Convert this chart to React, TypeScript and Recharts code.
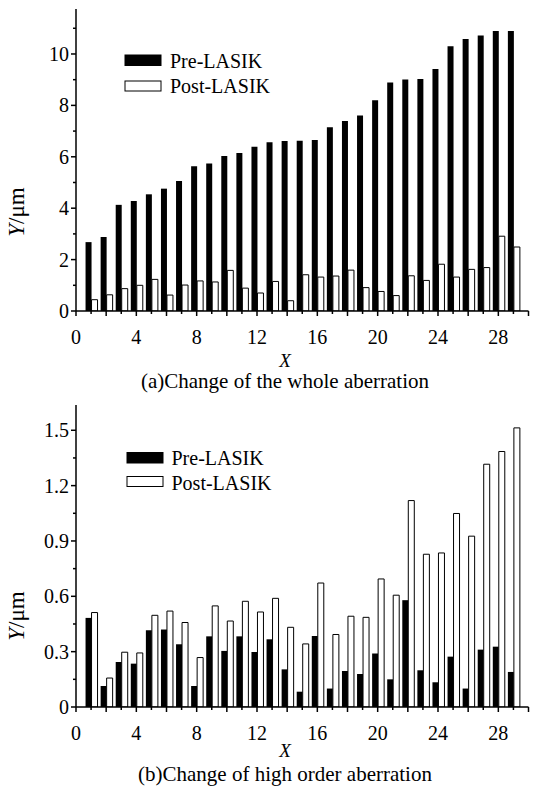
import React from 'react';
import { BarChart, Bar, XAxis, YAxis } from 'recharts';

const xValues = [1, 2, 3, 4, 5, 6, 7, 8, 9, 10, 11, 12, 13, 14, 15, 16, 17, 18, 19, 20, 21, 22, 23, 24, 25, 26, 27, 28, 29];

const preWhole = [2.68, 2.88, 4.13, 4.28, 4.54, 4.76, 5.06, 5.63, 5.74, 6.03, 6.15, 6.39, 6.57, 6.61, 6.62, 6.65, 7.15, 7.39, 7.61, 8.2, 8.89, 9.01, 9.03, 9.42, 10.3, 10.58, 10.72, 10.89, 10.89];
const postWhole = [0.44, 0.63, 0.87, 1.0, 1.23, 0.62, 1.01, 1.17, 1.13, 1.58, 0.89, 0.7, 1.15, 0.4, 1.41, 1.32, 1.36, 1.59, 0.91, 0.76, 0.6, 1.37, 1.19, 1.82, 1.32, 1.62, 1.69, 2.91, 2.49];

const preHigh = [0.483, 0.114, 0.244, 0.235, 0.416, 0.42, 0.34, 0.114, 0.383, 0.304, 0.383, 0.298, 0.367, 0.204, 0.083, 0.385, 0.1, 0.195, 0.179, 0.29, 0.15, 0.579, 0.199, 0.134, 0.273, 0.1, 0.311, 0.327, 0.19];
const postHigh = [0.512, 0.157, 0.297, 0.293, 0.497, 0.52, 0.458, 0.268, 0.548, 0.466, 0.573, 0.515, 0.589, 0.432, 0.342, 0.672, 0.393, 0.492, 0.486, 0.694, 0.606, 1.119, 0.828, 0.835, 1.049, 0.926, 1.316, 1.385, 1.513];

const xTicks = [0, 1, 2, 3, 4, 5, 6, 7, 8, 9, 10, 11, 12, 13, 14, 15, 16, 17, 18, 19, 20, 21, 22, 23, 24, 25, 26, 27, 28, 29, 30];
const wholeYTicks = [0, 1, 2, 3, 4, 5, 6, 7, 8, 9, 10, 11];
const highYTicks = [0, 0.15, 0.3, 0.45, 0.6, 0.75, 0.9, 1.05, 1.2, 1.35, 1.5];

const seriesNames = ['Pre-LASIK', 'Post-LASIK'];
const captions = ['(a)Change of the whole aberration', '(b)Change of high order aberration'];

const wholeData = xValues.map((x, i) => ({ x, pre: preWhole[i], post: postWhole[i] }));
const highData = xValues.map((x, i) => ({ x, pre: preHigh[i], post: postHigh[i] }));

const FONT = "'Liberation Serif', 'Times New Roman', Times, serif";
const txt = (size: number, italic = false): React.CSSProperties => ({
  fontFamily: FONT,
  fontSize: size,
  fontStyle: italic ? 'italic' : 'normal',
  fill: '#000',
});

type Side = 'bottom' | 'top' | 'left' | 'right';

const makeTick = (
  side: Side,
  isMajor: (v: number) => boolean,
  label: (v: number) => string | null
) => (props: any) => {
  const { x, y, payload } = props;
  const v = payload.value as number;
  const len = isMajor(v) ? 5 : 3;
  const text = label(v);
  if (side === 'bottom') {
    return (
      <g>
        <line x1={x} x2={x} y1={y} y2={y + len} stroke="#000" strokeWidth={1.5} />
        {text != null && (
          <text x={x} y={y + 33} textAnchor="middle" style={txt(20)}>
            {text}
          </text>
        )}
      </g>
    );
  }
  if (side === 'top') {
    return <line x1={x} x2={x} y1={y} y2={y + len} stroke="#000" strokeWidth={1.5} />;
  }
  if (side === 'left') {
    return (
      <g>
        <line x1={x - len} x2={x} y1={y} y2={y} stroke="#000" strokeWidth={1.5} />
        {text != null && (
          <text x={x - 7} y={y + 7} textAnchor="end" style={txt(20)}>
            {text}
          </text>
        )}
      </g>
    );
  }
  return <line x1={x - len} x2={x} y1={y} y2={y} stroke="#000" strokeWidth={1.5} />;
};

const xMajor = (v: number) => v % 2 === 0;
const xLabel = (v: number) => (v % 4 === 0 && v <= 28 ? String(v) : null);
const none = () => null;

const wholeMajor = (v: number) => v % 2 === 0;
const wholeLabel = (v: number) => (v % 2 === 0 ? String(v) : null);

const highMajor = (v: number) => Math.round(v * 100) % 30 === 0;
const highLabel = (v: number) =>
  Math.round(v * 100) % 30 === 0 ? (v === 0 ? '0' : v.toFixed(1)) : null;

const W = 537;
const H = 396;

function Panel({
  data,
  yMax,
  yTicks,
  yMajor,
  yLabel,
}: {
  data: any[];
  yMax: number;
  yTicks: number[];
  yMajor: (v: number) => boolean;
  yLabel: (v: number) => string | null;
}) {
  return (
    <BarChart
      width={W}
      height={H}
      data={data}
      margin={{ top: 9, right: 8.5, bottom: 55, left: 16 }}
      barGap={0}
      barSize={6}
    >
      <XAxis
        dataKey="x"
        xAxisId="b"
        type="number"
        domain={[0, 30]}
        ticks={xTicks}
        interval={0}
        height={30}
        tickSize={0}
        tickMargin={0}
        tickLine={false}
        axisLine={{ stroke: '#000', strokeWidth: 1.5 }}
        tick={makeTick('bottom', xMajor, xLabel)}
      />
      <XAxis
        dataKey="x"
        xAxisId="t"
        orientation="top"
        type="number"
        domain={[0, 30]}
        ticks={xTicks}
        interval={0}
        height={0}
        tickSize={0}
        tickMargin={0}
        tickLine={false}
        axisLine={{ stroke: '#000', strokeWidth: 1.5 }}
        tick={makeTick('top', xMajor, none)}
      />
      <YAxis
        yAxisId="l"
        type="number"
        domain={[0, yMax]}
        ticks={yTicks}
        interval={0}
        width={60}
        tickSize={0}
        tickMargin={0}
        tickLine={false}
        allowDataOverflow
        axisLine={{ stroke: '#000', strokeWidth: 1.5 }}
        tick={makeTick('left', yMajor, yLabel)}
      />
      <YAxis
        yAxisId="r"
        orientation="right"
        type="number"
        domain={[0, yMax]}
        ticks={yTicks}
        interval={0}
        width={0}
        tickSize={0}
        tickMargin={0}
        tickLine={false}
        allowDataOverflow
        axisLine={{ stroke: '#000', strokeWidth: 1.5 }}
        tick={makeTick('right', yMajor, none)}
      />
      <Bar dataKey="pre" name={seriesNames[0]} xAxisId="b" yAxisId="l" fill="#000" isAnimationActive={false} />
      <Bar
        dataKey="post"
        name={seriesNames[1]}
        xAxisId="b"
        yAxisId="l"
        fill="#fff"
        stroke="#000"
        strokeWidth={1}
        isAnimationActive={false}
      />
    </BarChart>
  );
}

function Overlay() {
  const legend = (sx: number, tx: number, y1: number, y2: number, b1: number, b2: number) => (
    <g>
      <rect x={sx} y={y1} width={37} height={11.5} fill="#000" />
      <text x={tx} y={b1} style={txt(20)}>
        {seriesNames[0]}
      </text>
      <rect x={sx + 0.5} y={y2 + 0.5} width={36} height={10} fill="#fff" stroke="#000" strokeWidth={1} />
      <text x={tx} y={b2} style={txt(20)}>
        {seriesNames[1]}
      </text>
    </g>
  );
  const yTitle = (cy: number) => (
    <text x={24} y={cy} transform={`rotate(-90 24 ${cy})`} textAnchor="middle" style={txt(23)}>
      <tspan style={{ fontStyle: 'italic' }}>Y</tspan>/μm
    </text>
  );
  return (
    <svg
      width={W}
      height={793}
      style={{ position: 'absolute', left: 0, top: 0, pointerEvents: 'none' }}
    >
      {legend(124.5, 170, 54.5, 80.5, 67.5, 92.5)}
      {legend(126.5, 171.5, 452, 476, 465, 490)}
      {yTitle(212)}
      {yTitle(616)}
      <text x={285} y={367} textAnchor="middle" style={txt(19, true)}>
        X
      </text>
      <text x={285} y={388} textAnchor="middle" style={txt(21)}>
        {captions[0]}
      </text>
      <text x={285} y={757} textAnchor="middle" style={txt(19, true)}>
        X
      </text>
      <text x={285} y={781} textAnchor="middle" style={txt(21)}>
        {captions[1]}
      </text>
    </svg>
  );
}

export default function App() {
  return (
    <div style={{ position: 'absolute', left: 0, top: 0, width: W, height: 793, background: '#fff' }}>
      <div style={{ position: 'absolute', left: 0, top: 0 }}>
        <Panel data={wholeData} yMax={11.75} yTicks={wholeYTicks} yMajor={wholeMajor} yLabel={wholeLabel} />
      </div>
      <div style={{ position: 'absolute', left: 0, top: 396 }}>
        <Panel data={highData} yMax={1.637} yTicks={highYTicks} yMajor={highMajor} yLabel={highLabel} />
      </div>
      <Overlay />
    </div>
  );
}
